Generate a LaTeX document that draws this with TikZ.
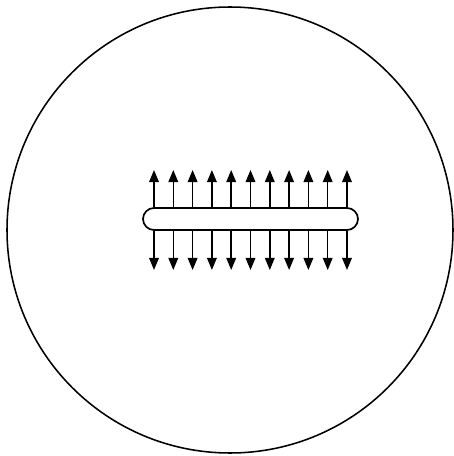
\documentclass[tikz,border=0pt]{standalone}
\usetikzlibrary{shapes.misc, arrows.meta, positioning, calc}

\begin{document}
\begin{tikzpicture}[
  x=0.025cm, y=0.025cm,
  slotbox/.style={draw, rounded rectangle, line width=1.2pt, minimum width=215*0.025cm, minimum height=22*0.025cm, inner sep=0pt},
  flow/.style={line width=1pt, -{Triangle[length=0.3cm, width=0.24cm]}}
]
  \useasboundingbox (0,0) rectangle (454,456);
  % outer boundary
  \draw[line width=1.1pt] (230,226) circle [radius=223];
  % slot
  \node[slotbox] (slot) at (250.5,237) {};
  % arrows leaving the slot
  \foreach \i in {0,...,10}{
    \coordinate (up\i) at (154+19.3*\i,286);
    \coordinate (dn\i) at (154+19.3*\i,186);
    \draw[flow] (slot.north -| up\i) -- (up\i);
    \draw[flow] (slot.south -| dn\i) -- (dn\i);
  }
\end{tikzpicture}
\end{document}
